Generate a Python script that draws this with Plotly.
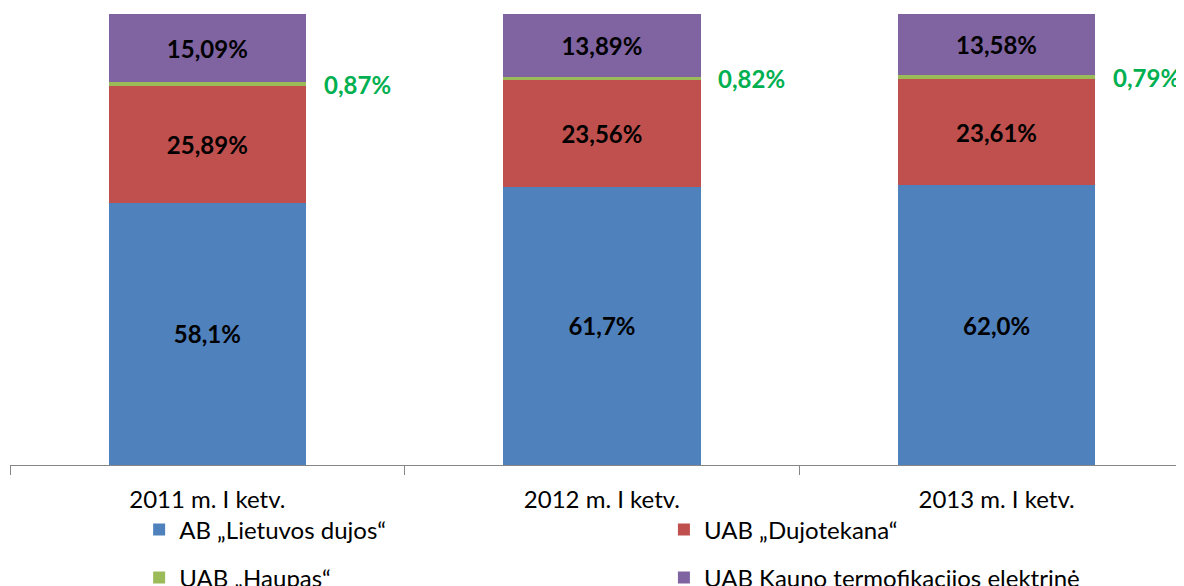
import plotly.graph_objects as go

categories = ["2011 m. I ketv.", "2012 m. I ketv.", "2013 m. I ketv."]
lietuvos = [58.1, 61.7, 62.0]
dujotekana = [25.89, 23.56, 23.61]
haupas = [0.87, 0.82, 0.79]
kauno = [15.09, 13.89, 13.58]

lietuvos_lbl = ["58,1%", "61,7%", "62,0%"]
dujotekana_lbl = ["25,89%", "23,56%", "23,61%"]
haupas_lbl = ["0,87%", "0,82%", "0,79%"]
kauno_lbl = ["15,09%", "13,89%", "13,58%"]

names = ["AB „Lietuvos dujos“", "UAB „Dujotekana“", "UAB „Haupas“",
         "UAB Kauno termofikacijos elektrinė"]
colors = ["#4F81BD", "#C0504D", "#9BBB59", "#8064A2"]

FONT = "Lato"
lblfont = dict(family=FONT, size=24, color="black", weight="bold")

fig = go.Figure()
series = [(lietuvos, lietuvos_lbl, "legend"), (dujotekana, dujotekana_lbl, "legend2"),
          (haupas, None, "legend3"), (kauno, kauno_lbl, "legend4")]
for i, (vals, lbls, lg) in enumerate(series):
    fig.add_trace(go.Bar(
        x=categories, y=vals, name=names[i], marker_color=colors[i],
        marker_line_width=0, width=0.5, legend=lg, showlegend=True,
        text=lbls, textposition="inside" if lbls else "none",
        insidetextanchor="middle", textangle=0, textfont=lblfont,
        hoverinfo="skip",
    ))

for i, c in enumerate(categories):
    ymid = lietuvos[i] + dujotekana[i] + haupas[i] / 2
    fig.add_annotation(x=i + 0.38, y=ymid, xref="x", yref="y", text=haupas_lbl[i],
                       showarrow=False, font=dict(family=FONT, size=24, color="#00B050", weight="bold"))

legfont = dict(family=FONT, size=24, color="black")
def leg(x, y):
    return dict(orientation="h", x=x, xanchor="left", y=y, yanchor="middle",
                font=legfont, bgcolor="rgba(0,0,0,0)")

# page body has an 8px margin; figure sized to fill the rest of the window
fig.update_layout(
    barmode="stack",
    showlegend=True,
    width=1176, height=578,
    margin=dict(l=2, r=0, t=6, b=121, autoexpand=False),
    paper_bgcolor="white", plot_bgcolor="white",
    font=dict(family=FONT, size=24, color="black"),
    xaxis=dict(range=[-0.5, 2.475], tickson="boundaries", ticks="outside", ticklen=9,
               tickcolor="#868686", showline=True, linecolor="#868686", linewidth=1,
               showgrid=False, tickfont=dict(family=FONT, size=24, color="black"),
               ticklabelstandoff=13),
    yaxis=dict(range=[0, 100], visible=False),
    legend=leg(0.11, -0.144),
    legend2=leg(0.557, -0.144),
    legend3=leg(0.11, -0.2506),
    legend4=leg(0.557, -0.2506),
)

fig.write_html("out.html")
